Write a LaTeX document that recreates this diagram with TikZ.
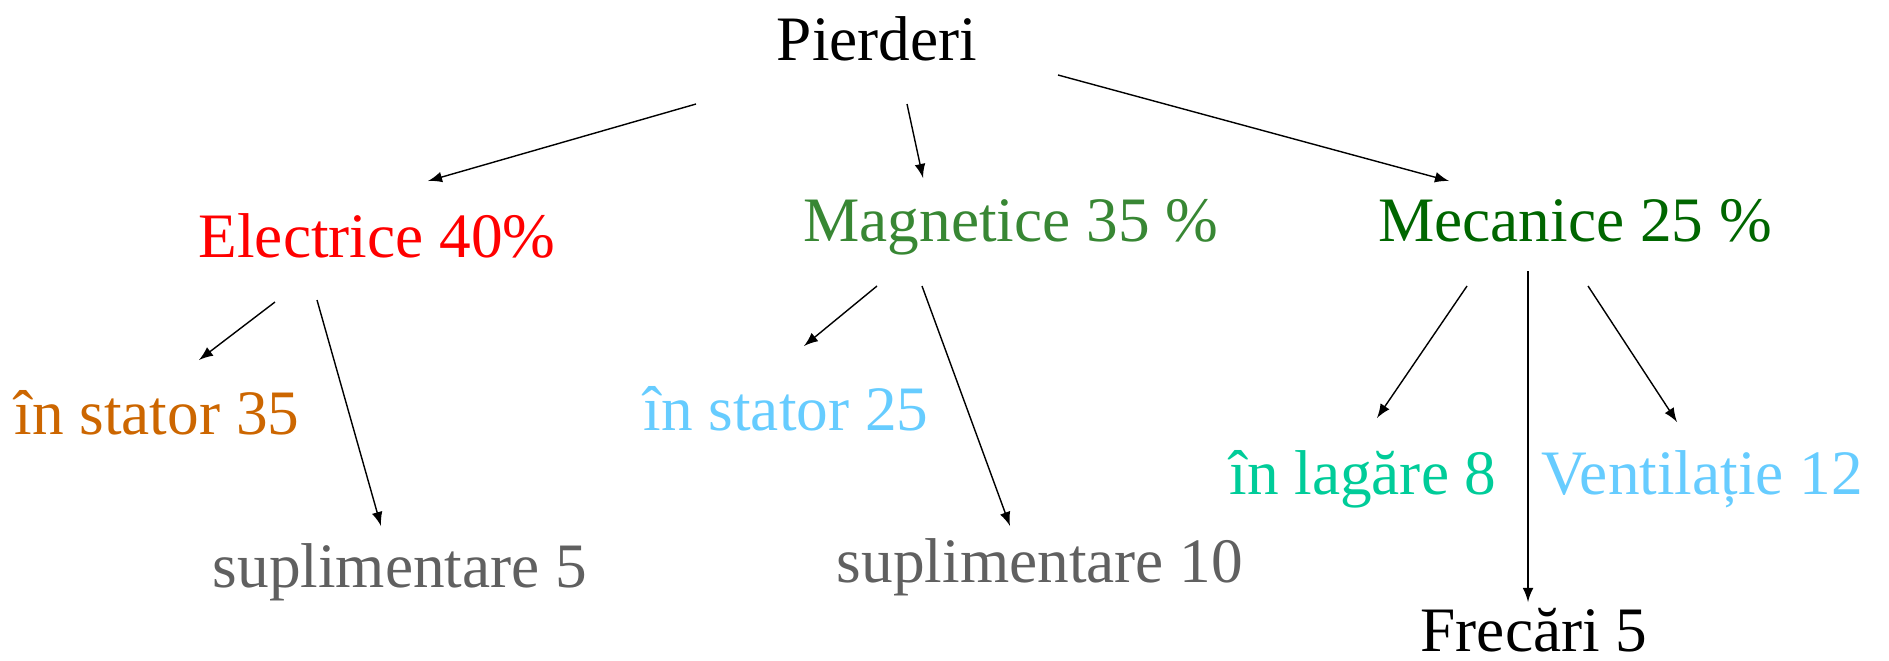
\documentclass[tikz,border=0pt]{standalone}
\usepackage{fontspec}
\setmainfont{Liberation Serif}
\usetikzlibrary{calc}

\definecolor{elecred}{RGB}{255,0,0}
\definecolor{maggreen}{RGB}{56,135,52}
\definecolor{mecgreen}{RGB}{0,102,0}
\definecolor{statorange}{RGB}{204,102,0}
\definecolor{skyblue}{RGB}{102,204,255}
\definecolor{suplgray}{RGB}{96,96,96}
\definecolor{lagteal}{RGB}{0,204,153}

\begin{document}
\begin{tikzpicture}[>=latex, x=0.01cm, y=-0.01cm,
  lbl/.style={anchor=base, inner sep=0pt, font=\fontsize{18}{22}\selectfont}]
  \useasboundingbox (0,0) rectangle (1889,660);
  % Top of the tree.
  \node[lbl] (pierderi) at (877,60) {Pierderi};
  % The three kinds of losses.
  \node[lbl, text=elecred] (electrice) at (377,257) {Electrice 40\%};
  \node[lbl, text=maggreen] (magnetice) at (1011,241) {Magnetice 35 \%};
  \node[lbl, text=mecgreen] (mecanice) at (1575,241) {Mecanice 25 \%};
  % Electric losses split.
  \node[lbl, text=statorange] (estator) at (157,434) {în stator 35};
  \node[lbl, text=suplgray] (esupl) at (400,587) {suplimentare 5};
  % Magnetic losses split.
  \node[lbl, text=skyblue] (mstator) at (786,430) {în stator 25};
  \node[lbl, text=suplgray] (msupl) at (1040,582) {suplimentare 10};
  % Mechanical losses split.
  \node[lbl, text=lagteal] (lagare) at (1363,494) {în lagăre 8};
  \node[lbl, text=skyblue] (ventil) at (1702,494) {Ventilație 12};
  \node[lbl] (frecari) at (1534,651) {Frecări 5};
  % Arrow ends, free of the labels.
  \coordinate (p-e) at (696,104);  \coordinate (e-in) at (428,181);
  \coordinate (p-m) at (907,104);  \coordinate (m-in) at (923,178);
  \coordinate (p-c) at (1058,75);  \coordinate (c-in) at (1449,181);
  \coordinate (e-s) at (275,302);  \coordinate (es-in) at (199,360);
  \coordinate (e-u) at (317,300);  \coordinate (eu-in) at (381,526);
  \coordinate (m-s) at (877,286);  \coordinate (ms-in) at (804,346);
  \coordinate (m-u) at (922,286);  \coordinate (mu-in) at (1010,526);
  \coordinate (c-l) at (1467,286); \coordinate (l-in) at (1377,418);
  \coordinate (c-f) at (1528,271); \coordinate (f-in) at (1528,602);
  \coordinate (c-v) at (1588,286); \coordinate (v-in) at (1677,422);
  \draw[->] (p-e) -- (e-in);
  \draw[->] (p-m) -- (m-in);
  \draw[->] (p-c) -- (c-in);
  \draw[->] (e-s) -- (es-in);
  \draw[->] (e-u) -- (eu-in);
  \draw[->] (m-s) -- (ms-in);
  \draw[->] (m-u) -- (mu-in);
  \draw[->] (c-l) -- (l-in);
  \draw[->] (c-f) -- (f-in);
  \draw[->] (c-v) -- (v-in);
\end{tikzpicture}
\end{document}
